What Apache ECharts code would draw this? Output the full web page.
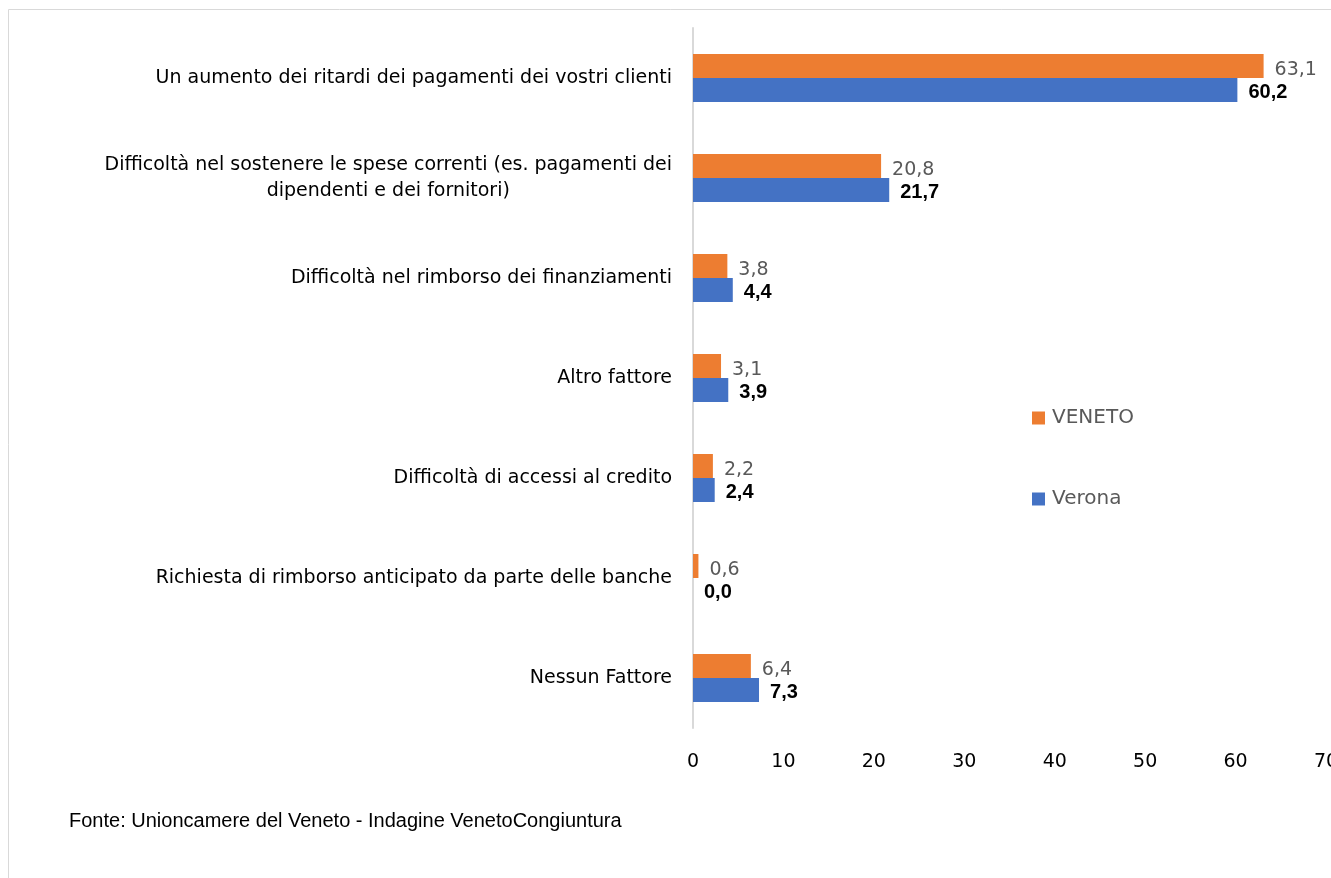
<!DOCTYPE html>
<html>
<head>
<meta charset="utf-8">
<script src="https://cdn.jsdelivr.net/npm/echarts@6/dist/echarts.min.js"></script>
<style>
  html, body { margin: 0; padding: 0; background: #fff; }
  #chart { width: 1331px; height: 878px; }
</style>
</head>
<body>
<div id="chart"></div>
<script>
var categories = [
  'Un aumento dei ritardi dei pagamenti dei vostri clienti',
  'Difficoltà nel sostenere le spese correnti (es. pagamenti dei\ndipendenti e dei fornitori)',
  'Difficoltà nel rimborso dei finanziamenti',
  'Altro fattore',
  'Difficoltà di accessi al credito',
  'Richiesta di rimborso anticipato da parte delle banche',
  'Nessun Fattore'
];
var veneto = [63.1, 20.8, 3.8, 3.1, 2.2, 0.6, 6.4];
var verona = [60.2, 21.7, 4.4, 3.9, 2.4, 0.0, 7.3];
var xTicks = [0, 10, 20, 30, 40, 50, 60, 70];

var myChart = echarts.init(document.getElementById('chart'));

// virgola come separatore decimale
function fmt(p) {
  return p.value.toFixed(1).replace('.', ',');
}

var option = {
  animation: false,
  grid: {
    left: 693,
    right: 5,
    top: 28,
    bottom: 150,
    outerBoundsMode: 'none'
  },
  legend: {
    orient: 'vertical',
    left: 1032,
    top: 408,
    padding: 0,
    itemGap: 61,
    itemWidth: 13,
    itemHeight: 13,
    icon: 'rect',
    textStyle: {
      fontFamily: 'DejaVu Sans',
      fontSize: 20,
      color: '#595959',
      padding: [0, 0, 0, 2]
    },
    data: ['VENETO', 'Verona']
  },
  xAxis: {
    type: 'value',
    min: xTicks[0],
    max: xTicks[xTicks.length - 1],
    interval: 10,
    splitLine: { show: false },
    axisLine: { show: false },
    axisTick: { show: false },
    axisLabel: {
      margin: 25,
      fontFamily: 'DejaVu Sans',
      fontSize: 19,
      color: '#000'
    }
  },
  yAxis: {
    type: 'category',
    inverse: true,
    data: categories,
    axisTick: { show: false },
    axisLine: { show: true, lineStyle: { color: '#d9d9d9', width: 2 } },
    axisLabel: {
      margin: 21,
      fontFamily: 'DejaVu Sans',
      fontSize: 19,
      color: '#000',
      lineHeight: 26,
      formatter: function (v) {
        return v.split('\n').map(function (s) { return '{c|' + s + '}'; }).join('\n');
      },
      rich: {
        c: {
          align: 'center',
          fontFamily: 'DejaVu Sans',
          fontSize: 19,
          color: '#000',
          lineHeight: 26
        }
      }
    }
  },
  series: [
    {
      name: 'VENETO',
      type: 'bar',
      data: veneto,
      barWidth: 24,
      barGap: '0%',
      itemStyle: { color: '#ED7D31' },
      label: {
        show: true,
        position: 'right',
        distance: 11,
        offset: [0, 4],
        formatter: fmt,
        fontFamily: 'DejaVu Sans',
        fontSize: 19,
        color: '#595959'
      }
    },
    {
      name: 'Verona',
      type: 'bar',
      data: verona,
      barWidth: 24,
      itemStyle: { color: '#4472C4' },
      label: {
        show: true,
        position: 'right',
        distance: 11,
        offset: [0, 2],
        formatter: fmt,
        fontFamily: 'Liberation Sans',
        fontWeight: 'bold',
        fontSize: 20,
        color: '#000'
      }
    }
  ],
  graphic: [
    {
      type: 'rect',
      shape: { x: 8.5, y: 9.5, width: 1400, height: 900 },
      style: { fill: 'none', stroke: '#d9d9d9', lineWidth: 1 },
      silent: true
    },
    {
      type: 'text',
      left: 69,
      top: 811,
      style: {
        text: 'Fonte: Unioncamere del Veneto - Indagine VenetoCongiuntura',
        font: '20px "Liberation Sans"',
        fill: '#000'
      }
    }
  ]
};
myChart.setOption(option, true);
</script>
</body>
</html>
